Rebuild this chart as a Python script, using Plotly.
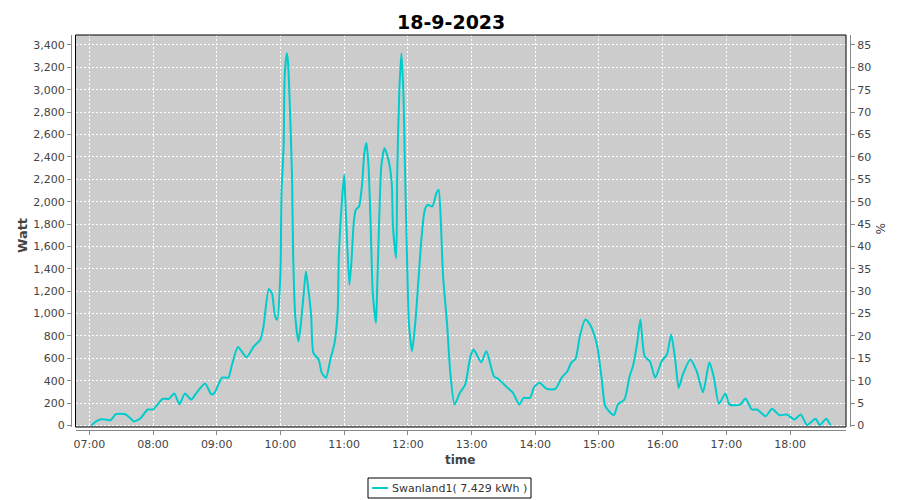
import plotly.graph_objects as go

DATE = "2023-09-18"
title_text = "18-9-2023"
series_name = "Swanland1( 7.429 kWh )"

times = ["07:02", "07:05", "07:10", "07:15", "07:20", "07:25", "07:34", "07:38", "07:42", "07:48",
         "07:55", "08:00", "08:09", "08:15", "08:20", "08:25", "08:30", "08:36", "08:41", "08:49",
         "08:55", "08:58", "09:05", "09:11", "09:14", "09:20", "09:28", "09:35", "09:41", "09:44",
         "09:49", "09:52", "09:55", "09:57", "10:00", "10:01", "10:03", "10:04", "10:06", "10:07",
         "10:09", "10:11", "10:12", "10:14", "10:17", "10:19", "10:22", "10:24", "10:26", "10:29",
         "10:31", "10:36", "10:39", "10:43", "10:47", "10:51", "10:54", "10:55", "10:58", "11:00",
         "11:01", "11:03", "11:05", "11:07", "11:09", "11:11", "11:14", "11:17", "11:19", "11:21",
         "11:23", "11:25", "11:27", "11:30", "11:31", "11:33", "11:35", "11:38", "11:40", "11:43",
         "11:45", "11:46", "11:49", "11:50", "11:52", "11:54", "11:56", "11:57", "11:59", "12:01",
         "12:04", "12:07", "12:10", "12:13", "12:16", "12:19", "12:23", "12:27", "12:29", "12:31",
         "12:33", "12:37", "12:40", "12:44", "12:49", "12:54", "12:59", "13:02", "13:09", "13:14",
         "13:21", "13:25", "13:33", "13:39", "13:45", "13:49", "13:55", "13:59", "14:04", "14:11",
         "14:19", "14:25", "14:30", "14:34", "14:38", "14:42", "14:47", "14:51", "14:56", "14:59",
         "15:03", "15:06", "15:14", "15:18", "15:24", "15:29", "15:32", "15:36", "15:39", "15:43",
         "15:48", "15:53", "15:59", "16:04", "16:08", "16:12", "16:15", "16:19", "16:26", "16:32",
         "16:38", "16:44", "16:48", "16:53", "16:59", "17:03", "17:13", "17:18", "17:24", "17:29",
         "17:37", "17:43", "17:50", "17:57", "18:04", "18:10", "18:16", "18:24", "18:28", "18:34",
         "18:38"]

watts = [0, 27, 54, 54, 47, 101, 101, 71, 36, 62,
         143, 143, 238, 238, 286, 190, 286, 232, 292, 375,
         277, 292, 428, 428, 530, 702, 610, 708, 767, 880,
         1220, 1180, 975, 946, 1363, 2077, 2493, 3117, 3326, 3266,
         2820, 2195, 1511, 975, 752, 886, 1184, 1377, 1243, 975,
         649, 589, 470, 426, 589, 738, 1035, 1511, 2017, 2240,
         2046, 1600, 1258, 1481, 1809, 1928, 1957, 2166, 2434, 2523,
         2314, 1779, 1184, 916, 1184, 1838, 2314, 2478, 2434, 2314,
         2136, 1779, 1497, 2255, 2998, 3326, 2909, 2434, 1600, 916,
         663, 916, 1303, 1689, 1928, 1972, 1957, 2077, 2106, 1838,
         1363, 900, 470, 187, 292, 366, 618, 678, 565, 663,
         440, 417, 345, 292, 187, 247, 247, 345, 381, 327,
         327, 430, 480, 562, 597, 797, 946, 910, 797, 678,
         381, 172, 92, 190, 232, 445, 530, 738, 946, 618,
         574, 426, 574, 634, 812, 574, 336, 455, 589, 485,
         297, 565, 440, 194, 286, 187, 187, 241, 143, 143,
         83, 149, 92, 98, 54, 98, 3, 60, 3, 60,
         3]

x_tick_start = "07:00"
x_range = ["06:47", "18:52:40"]
watt_range = [-13.4, 3489]
watt_dtick = 200
pct_per_watt = 1 / 40.0
pct_dtick = 5

# ---- layout geometry (page pixels; the page body adds an 8px offset) ----
W, H = 900, 500
OFF = 8
ML, MR, MT, MB = 62, 56, 27, 76
PW, PH = W - ML - MR, H - MT - MB


def px(x):
    return (x - OFF - ML) / PW


def py(y):
    return (H - MB - (y - OFF)) / PH


xs = [f"{DATE} {t}" for t in times]
LINE = "#00CCCC"
TICKFONT = dict(family="DejaVu Sans", size=11, color="#444444")
GRID = dict(showgrid=True, gridcolor="white", griddash="2px,2px", gridwidth=1)

fig = go.Figure()
fig.add_trace(go.Scatter(
    x=xs, y=watts, mode="lines", name=series_name,
    line=dict(color=LINE, width=2, shape="spline", smoothing=0.6),
    showlegend=False,
))
fig.add_trace(go.Scatter(x=[], y=[], yaxis="y2", showlegend=False, hoverinfo="skip"))

fig.update_layout(
    width=W, height=H,
    margin=dict(l=ML, r=MR, t=MT, b=MB, pad=0),
    paper_bgcolor="white",
    plot_bgcolor="#CCCCCC",
    xaxis=dict(
        type="date",
        domain=[px(75.5), px(846)],
        anchor="free", position=py(430),
        range=[f"{DATE} {x_range[0]}", f"{DATE} {x_range[1]}"],
        tick0=f"{DATE} {x_tick_start}", dtick=3600000, tickformat="%H:%M",
        showline=True, linecolor="#888888", linewidth=1,
        ticks="outside", ticklen=4, tickcolor="#888888",
        tickfont=TICKFONT, zeroline=False, **GRID,
    ),
    yaxis=dict(
        domain=[py(427), py(35)],
        anchor="free", position=px(71),
        range=watt_range, tick0=0, dtick=watt_dtick, tickformat=",d",
        showline=True, linecolor="#888888", linewidth=1,
        ticks="outside", ticklen=4, tickcolor="#888888",
        tickfont=TICKFONT, zeroline=False, **GRID,
    ),
    yaxis2=dict(
        overlaying="y", side="right",
        anchor="free", position=px(850),
        range=[watt_range[0] * pct_per_watt, watt_range[1] * pct_per_watt],
        tick0=0, dtick=pct_dtick,
        showline=True, linecolor="#888888", linewidth=1,
        ticks="outside", ticklen=4, tickcolor="#888888",
        tickfont=TICKFONT, showgrid=False, zeroline=False,
    ),
    showlegend=False,
)

# title
fig.add_annotation(text=f"<b>{title_text}</b>", xref="paper", yref="paper", x=px(451), y=py(9),
                   showarrow=False, xanchor="center", yanchor="top",
                   font=dict(family="DejaVu Sans", size=19, color="black"))

# plot-area border
fig.add_shape(type="rect", xref="x domain", yref="y domain", x0=0, x1=1, y0=0, y1=1,
              line=dict(color="black", width=1), fillcolor="rgba(0,0,0,0)", layer="above")

# axis titles
fig.add_annotation(text="<b>Watt</b>", xref="paper", yref="paper", x=px(22), y=py(236),
                   textangle=-90, showarrow=False, xanchor="center", yanchor="middle",
                   font=dict(family="DejaVu Sans", size=13, color="#444444"))
fig.add_annotation(text="%", xref="paper", yref="paper", x=px(880), y=py(228),
                   textangle=90, showarrow=False, xanchor="center", yanchor="middle",
                   font=dict(family="DejaVu Sans", size=12, color="#444444"))
fig.add_annotation(text="<b>time</b>", xref="paper", yref="paper", x=px(460), y=py(460),
                   showarrow=False, xanchor="center", yanchor="middle",
                   font=dict(family="DejaVu Sans", size=12, color="#444444"))

# legend box
fig.add_shape(type="rect", xref="paper", yref="paper", x0=px(368), x1=px(531), y0=py(478), y1=py(498),
              line=dict(color="black", width=1), fillcolor="white")
fig.add_shape(type="line", xref="paper", yref="paper", x0=px(372), x1=px(388), y0=py(488), y1=py(488),
              line=dict(color=LINE, width=2))
fig.add_annotation(text=series_name, xref="paper", yref="paper", x=px(390), y=py(488),
                   showarrow=False, xanchor="left", yanchor="middle",
                   font=dict(family="DejaVu Sans", size=11, color="#333333"))

fig.write_html("out.html")
